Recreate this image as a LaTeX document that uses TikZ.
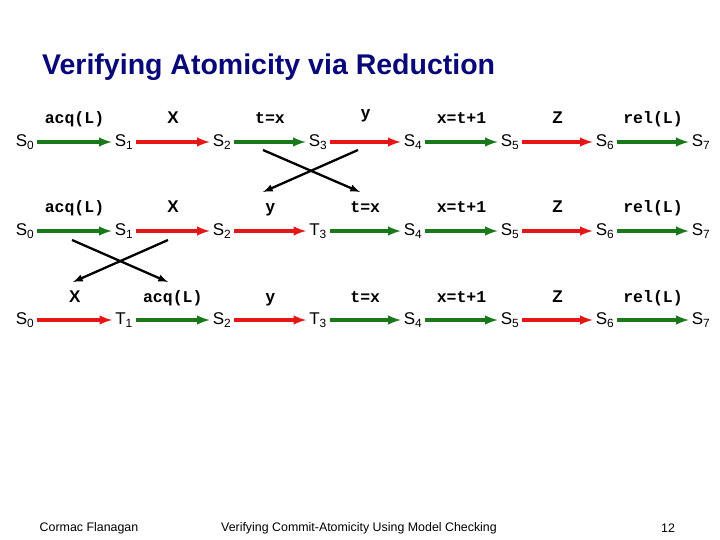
\documentclass[tikz,border=0pt]{standalone}
\usepackage{fontspec}
\setmainfont{Liberation Sans}
\newfontfamily\codefont{Liberation Mono}
\usetikzlibrary{arrows}
\definecolor{stepgreen}{RGB}{25,120,25}
\definecolor{stepred}{RGB}{228,22,22}
\definecolor{titleblue}{RGB}{8,8,120}

\begin{document}
\begin{tikzpicture}%
        [x=1pt, y=-1pt,
        state/.style={inner sep=3pt, font=\fontsize{17}{17}\selectfont},
        mover/.style={color=stepgreen, line width=3.2pt, -latex},
        other/.style={color=stepred, line width=3.2pt, -latex},
        op/.style={anchor=base, yshift=18pt, text=black, font=\codefont\bfseries\fontsize{16.5}{16.5}\selectfont},
        act/.style={anchor=base, yshift=18pt, text=black, font=\bfseries\fontsize{17}{17}\selectfont},
        swap/.style={color=black, line width=2.3pt, -latex},
        foot/.style={font=\fontsize{12.4}{12.4}\selectfont}]
    \useasboundingbox (0,0) rectangle (720,540);
    %
    %% Title
    \node[anchor=west, inner sep=0pt, text=titleblue, font=\bfseries\fontsize{28.5}{28.5}\selectfont] (title) at (42,67) {Verifying Atomicity via Reduction};
    %
    %% First row: the original trace
    \node[state] (a0) at (25,142) {S\textsubscript{0}};
    \node[state] (a1) at (124,142) {S\textsubscript{1}};
    \node[state] (a2) at (222,142) {S\textsubscript{2}};
    \node[state] (a3) at (318,142) {S\textsubscript{3}};
    \node[state] (a4) at (413,142) {S\textsubscript{4}};
    \node[state] (a5) at (510,142) {S\textsubscript{5}};
    \node[state] (a6) at (605,142) {S\textsubscript{6}};
    \node[state] (a7) at (701,142) {S\textsubscript{7}};
    \draw[mover] (a0) -- (a1) node[op, midway] (la1) {acq(L)};
    \draw[other] (a1) -- (a2) node[act, midway] (la2) {X};
    \draw[mover] (a2) -- (a3) node[op, midway] (la3) {t=x};
    \draw[other] (a3) -- (a4) node[act, midway, yshift=5pt] (la4) {y};
    \draw[mover] (a4) -- (a5) node[op, midway] (la5) {x=t+1};
    \draw[other] (a5) -- (a6) node[act, midway] (la6) {Z};
    \draw[mover] (a6) -- (a7) node[op, midway] (la7) {rel(L)};
    %
    %% Second row: y moved before t=x
    \node[state] (b0) at (25,231) {S\textsubscript{0}};
    \node[state] (b1) at (124,231) {S\textsubscript{1}};
    \node[state] (b2) at (222,231) {S\textsubscript{2}};
    \node[state] (b3) at (318,231) {T\textsubscript{3}};
    \node[state] (b4) at (413,231) {S\textsubscript{4}};
    \node[state] (b5) at (510,231) {S\textsubscript{5}};
    \node[state] (b6) at (605,231) {S\textsubscript{6}};
    \node[state] (b7) at (701,231) {S\textsubscript{7}};
    \draw[mover] (b0) -- (b1) node[op, midway] (lb1) {acq(L)};
    \draw[other] (b1) -- (b2) node[act, midway] (lb2) {X};
    \draw[other] (b2) -- (b3) node[act, midway] (lb3) {y};
    \draw[mover] (b3) -- (b4) node[op, midway] (lb4) {t=x};
    \draw[mover] (b4) -- (b5) node[op, midway] (lb5) {x=t+1};
    \draw[other] (b5) -- (b6) node[act, midway] (lb6) {Z};
    \draw[mover] (b6) -- (b7) node[op, midway] (lb7) {rel(L)};
    %
    %% Third row: X moved before acq(L)
    \node[state] (c0) at (25,320) {S\textsubscript{0}};
    \node[state] (c1) at (124,320) {T\textsubscript{1}};
    \node[state] (c2) at (222,320) {S\textsubscript{2}};
    \node[state] (c3) at (318,320) {T\textsubscript{3}};
    \node[state] (c4) at (413,320) {S\textsubscript{4}};
    \node[state] (c5) at (510,320) {S\textsubscript{5}};
    \node[state] (c6) at (605,320) {S\textsubscript{6}};
    \node[state] (c7) at (701,320) {S\textsubscript{7}};
    \draw[other] (c0) -- (c1) node[act, midway] (lc1) {X};
    \draw[mover] (c1) -- (c2) node[op, midway] (lc2) {acq(L)};
    \draw[other] (c2) -- (c3) node[act, midway] (lc3) {y};
    \draw[mover] (c3) -- (c4) node[op, midway] (lc4) {t=x};
    \draw[mover] (c4) -- (c5) node[op, midway] (lc5) {x=t+1};
    \draw[other] (c5) -- (c6) node[act, midway] (lc6) {Z};
    \draw[mover] (c6) -- (c7) node[op, midway] (lc7) {rel(L)};
    %
    %% Swaps between the rows
    \coordinate (ab1) at (263,150);
    \coordinate (ab2) at (358,150);
    \coordinate (ab3) at (263,192);
    \coordinate (ab4) at (360,192);
    \draw[swap] (ab1) -- (ab4);
    \draw[swap] (ab2) -- (ab3);
    \coordinate (bc1) at (72,240);
    \coordinate (bc2) at (168,240);
    \coordinate (bc3) at (73,282);
    \coordinate (bc4) at (168,282);
    \draw[swap] (bc1) -- (bc4);
    \draw[swap] (bc2) -- (bc3);
    %
    %% Footer
    \node[foot] (author) at (89,528) {Cormac Flanagan};
    \node[foot] (talk) at (359,528) {Verifying Commit-Atomicity Using Model Checking};
    \node[foot] (page) at (668,528) {12};
\end{tikzpicture}
\end{document}
